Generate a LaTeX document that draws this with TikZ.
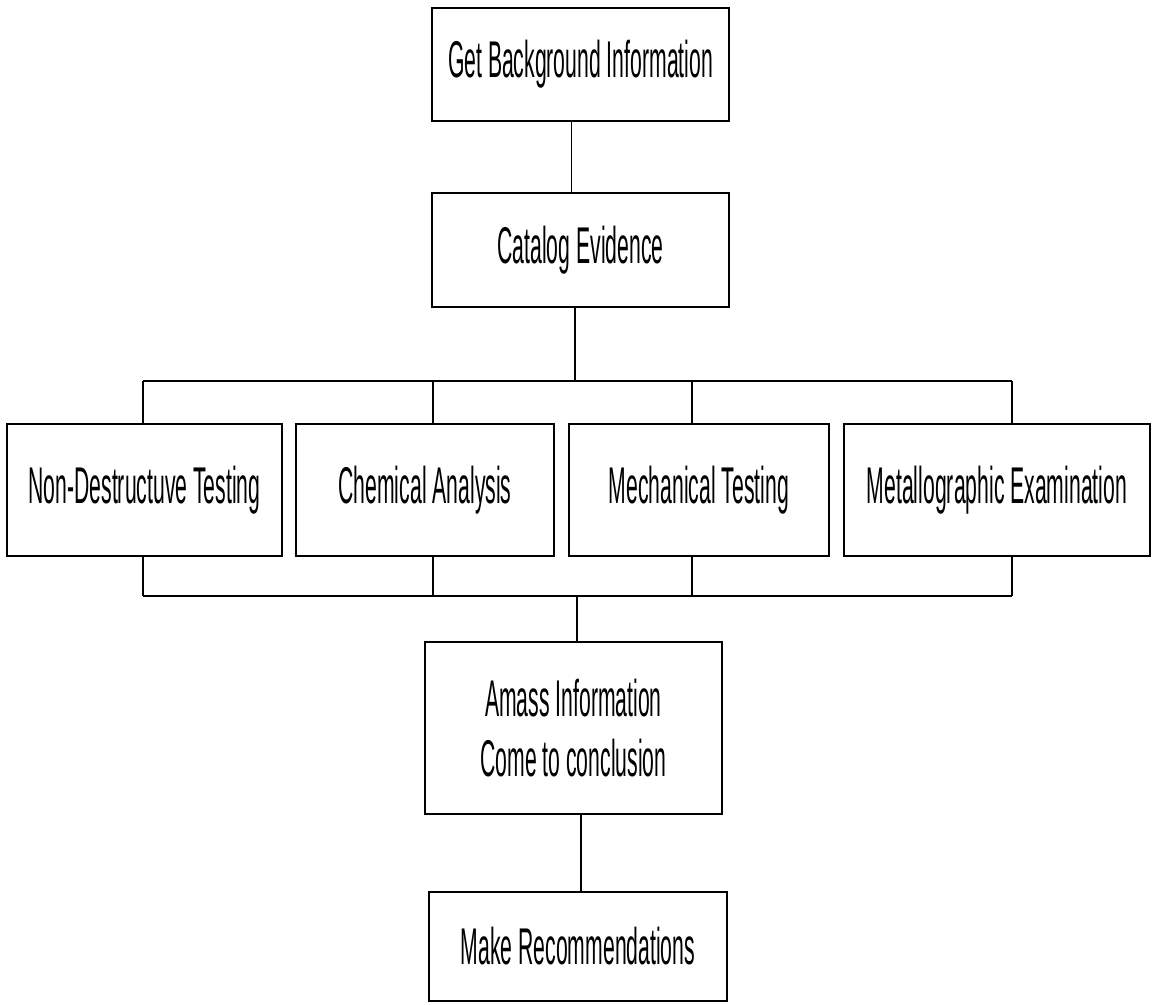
\documentclass[tikz,border=0pt]{standalone}
\usepackage{fontspec}
\setmainfont[FakeStretch=0.41]{Liberation Sans}
\begin{document}
\begin{tikzpicture}[
    stepbox/.style={draw, line width=1.6pt, align=center, inner sep=0pt,
      font=\fontsize{29.4}{34}\selectfont},
    link/.style={line width=1.1pt},
    bus/.style={line width=1.6pt}]
\useasboundingbox (0,0) rectangle (23.06,-20.1);
% top of the chart
\node (bg) [stepbox, minimum width=5.94cm, minimum height=2.26cm] at (11.61,-1.29) {Get Background Information};
\node (catalog) [stepbox, minimum width=5.94cm, minimum height=2.28cm] at (11.61,-5.0) {Catalog Evidence};
% the four tests
\node (ndt) [stepbox, minimum width=5.5cm, minimum height=2.64cm] at (2.89,-9.8) {Non-Destructuve Testing};
\node (chem) [stepbox, minimum width=5.16cm, minimum height=2.64cm] at (8.5,-9.8) {Chemical Analysis};
\node (mech) [stepbox, minimum width=5.2cm, minimum height=2.64cm] at (13.98,-9.8) {Mechanical Testing};
\node (metal) [stepbox, minimum width=6.12cm, minimum height=2.64cm] at (19.94,-9.8) {Metallographic Examination};
% bottom of the chart
\node (amass) [stepbox, minimum width=5.94cm, minimum height=3.44cm] at (11.47,-14.56) {Amass Information\\Come to conclusion};
\node (recom) [stepbox, minimum width=5.96cm, minimum height=2.18cm] at (11.56,-18.93) {Make Recommendations};
% bus ends
\coordinate (tA) at (2.86,-7.62);
\coordinate (tB) at (8.66,-7.62);
\coordinate (tC) at (13.84,-7.62);
\coordinate (tD) at (20.24,-7.62);
\coordinate (bA) at (2.86,-11.92);
\coordinate (bB) at (8.66,-11.92);
\coordinate (bC) at (13.84,-11.92);
\coordinate (bD) at (20.24,-11.92);
\draw [link] ([xshift=-0.18cm]bg.south) -- ([xshift=-0.18cm]catalog.north);
\draw [link] ([xshift=-0.11cm]catalog.south) -- ([xshift=-0.11cm]catalog.south |- tA);
\draw [bus] (tA) -- (tD);
\draw [bus] (bA) -- (bD);
\draw [link] (tA) -- (tA |- ndt.north);
\draw [link] (tB) -- (tB |- chem.north);
\draw [link] (tC) -- (tC |- mech.north);
\draw [link] (tD) -- (tD |- metal.north);
\draw [link] (bA) -- (bA |- ndt.south);
\draw [link] (bB) -- (bB |- chem.south);
\draw [link] (bC) -- (bC |- mech.south);
\draw [link] (bD) -- (bD |- metal.south);
\draw [link] ([xshift=0.07cm]amass.north |- bA) -- ([xshift=0.07cm]amass.north);
\draw [link] ([xshift=0.15cm]amass.south) -- ([xshift=0.15cm]amass.south |- recom.north);
\end{tikzpicture}
\end{document}
